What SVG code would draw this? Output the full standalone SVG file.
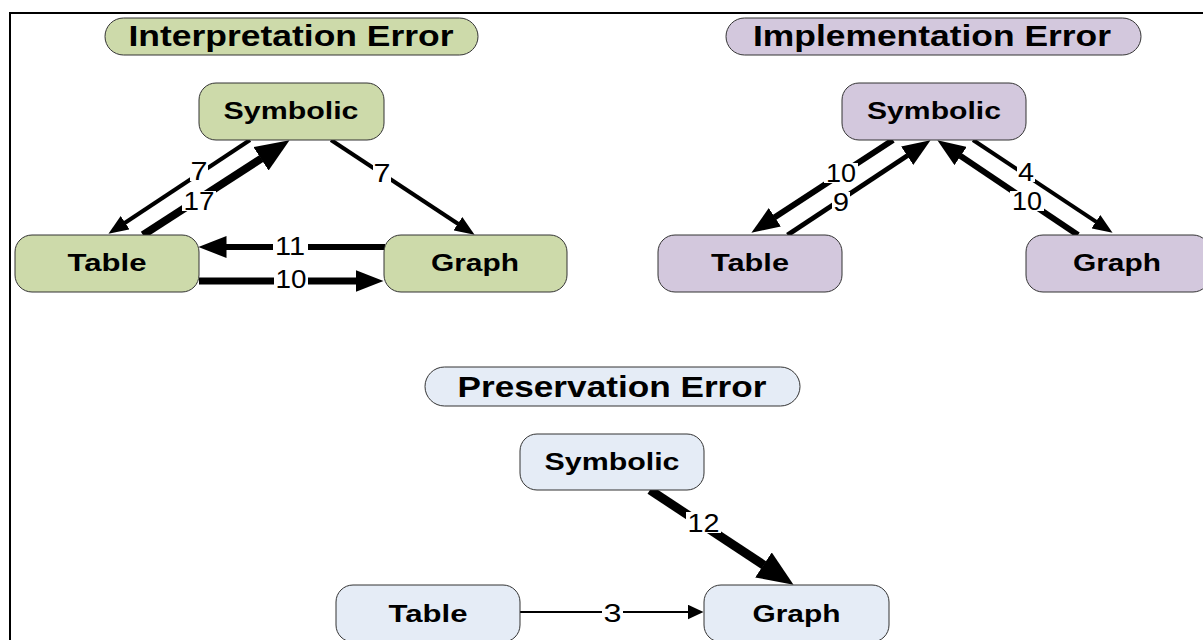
<svg xmlns="http://www.w3.org/2000/svg" width="1203" height="640" viewBox="0 0 1203 640">
<style>
.title{font-family:"Liberation Sans",Arial,sans-serif;font-weight:bold;font-size:29px;text-anchor:middle;fill:#000}
.ntext{font-family:"Liberation Sans",Arial,sans-serif;font-weight:bold;font-size:23.5px;text-anchor:middle;fill:#000}
.lbl{font-family:"Liberation Sans",Arial,sans-serif;font-size:25px;text-anchor:middle;fill:#000}
.node{stroke:#333;stroke-width:1}
.green{fill:#CDDAAA}
.purple{fill:#D3C8DD}
.blue{fill:#E5ECF6}
.e{stroke:#000;fill:none;stroke-linecap:butt}
.bg{fill:#fff}
</style>
<defs>
<marker id="mS" markerUnits="userSpaceOnUse" viewBox="0 0 16 15" refX="0.5" refY="7.5" markerWidth="16" markerHeight="15" orient="auto"><path d="M0,0 L16,7.5 L0,15 z" fill="#000"/></marker>
<marker id="m4" markerUnits="userSpaceOnUse" viewBox="0 0 20 16" refX="0.5" refY="8" markerWidth="20" markerHeight="16" orient="auto"><path d="M0,0 L20,8 L0,16 z" fill="#000"/></marker>
<marker id="m6" markerUnits="userSpaceOnUse" viewBox="0 0 28 22" refX="0.5" refY="11" markerWidth="28" markerHeight="22" orient="auto"><path d="M0,0 L28,11 L0,22 z" fill="#000"/></marker>
<marker id="m8" markerUnits="userSpaceOnUse" viewBox="0 0 34 28" refX="0.5" refY="14" markerWidth="34" markerHeight="28" orient="auto"><path d="M0,0 L34,14 L0,28 z" fill="#000"/></marker>
<marker id="m9" markerUnits="userSpaceOnUse" viewBox="0 0 36 30" refX="0.5" refY="15" markerWidth="36" markerHeight="30" orient="auto"><path d="M0,0 L36,15 L0,30 z" fill="#000"/></marker>
</defs>
<rect x="0" y="0" width="1203" height="640" fill="#fff"/>
<rect x="10" y="13" width="1200" height="640" fill="none" stroke="#000" stroke-width="2"/>

<g id="connectors">
  <!-- Interpretation -->
  <line class="e" x1="250" y1="140" x2="124.7" y2="223" stroke-width="4" marker-end="url(#m4)"/>
  <line class="e" x1="143" y1="235" x2="261.4" y2="158.5" stroke-width="8" marker-end="url(#m8)"/>
  <line class="e" x1="331" y1="140" x2="458.3" y2="224" stroke-width="4" marker-end="url(#m4)"/>
  <line class="e" x1="385" y1="247" x2="226" y2="247" stroke-width="6" marker-end="url(#m6)"/>
  <line class="e" x1="199" y1="281" x2="356" y2="281" stroke-width="7" marker-end="url(#m6)"/>
  <!-- Implementation -->
  <line class="e" x1="893" y1="140" x2="774.4" y2="217.6" stroke-width="6" marker-end="url(#m6)"/>
  <line class="e" x1="787.5" y1="235" x2="907.6" y2="155.5" stroke-width="5" marker-end="url(#m6)"/>
  <line class="e" x1="973" y1="140" x2="1096.3" y2="221.9" stroke-width="4" marker-end="url(#m4)"/>
  <line class="e" x1="1078" y1="235" x2="960.2" y2="155.7" stroke-width="6" marker-end="url(#m6)"/>
  <!-- Preservation -->
  <line class="e" x1="650" y1="490" x2="763.9" y2="565.2" stroke-width="9" marker-end="url(#m9)"/>
  <line class="e" x1="520" y1="612" x2="688" y2="612" stroke-width="2" marker-end="url(#mS)"/>

  <!-- labels -->
  <rect class="bg" x="190" y="161" width="18" height="20"/>
  <text class="lbl" x="199" y="180" textLength="17" lengthAdjust="spacingAndGlyphs">7</text>
  <rect class="bg" x="182" y="191" width="34" height="20"/>
  <text class="lbl" x="199" y="210" textLength="31" lengthAdjust="spacingAndGlyphs">17</text>
  <rect class="bg" x="373" y="163" width="18" height="20"/>
  <text class="lbl" x="382" y="182" textLength="17" lengthAdjust="spacingAndGlyphs">7</text>
  <rect class="bg" x="273" y="236" width="35" height="20"/>
  <text class="lbl" x="290" y="255" textLength="30" lengthAdjust="spacingAndGlyphs">11</text>
  <rect class="bg" x="274" y="269" width="34" height="20"/>
  <text class="lbl" x="291" y="288" textLength="31" lengthAdjust="spacingAndGlyphs">10</text>

  <rect class="bg" x="824" y="163" width="34" height="20"/>
  <text class="lbl" x="841" y="182" textLength="30" lengthAdjust="spacingAndGlyphs">10</text>
  <rect class="bg" x="832" y="192" width="18" height="20"/>
  <text class="lbl" x="841" y="210.5" textLength="16" lengthAdjust="spacingAndGlyphs">9</text>
  <rect class="bg" x="1017" y="162" width="18" height="20"/>
  <text class="lbl" x="1026" y="181" textLength="16" lengthAdjust="spacingAndGlyphs">4</text>
  <rect class="bg" x="1010" y="191" width="34" height="20"/>
  <text class="lbl" x="1027" y="210" textLength="30" lengthAdjust="spacingAndGlyphs">10</text>

  <rect class="bg" x="686" y="512" width="35" height="21"/>
  <text class="lbl" x="703.5" y="531.5" textLength="32" lengthAdjust="spacingAndGlyphs">12</text>
  <rect class="bg" x="602" y="602" width="21" height="20"/>
  <text class="lbl" x="612.5" y="621.5" textLength="18" lengthAdjust="spacingAndGlyphs">3</text>
</g>

<g id="title-interpretation">
  <rect class="node green" x="105" y="18" width="373" height="37" rx="18.5" ry="18.5"/>
  <text class="title" x="291" y="46" textLength="325" lengthAdjust="spacingAndGlyphs">Interpretation Error</text>
</g>
<g id="int-symbolic">
  <rect class="node green" x="199" y="83" width="185" height="57" rx="17" ry="17"/>
  <text class="ntext" x="291" y="119" textLength="135" lengthAdjust="spacingAndGlyphs">Symbolic</text>
</g>
<g id="int-table">
  <rect class="node green" x="15" y="235" width="184" height="57" rx="17" ry="17"/>
  <text class="ntext" x="107" y="271" textLength="79" lengthAdjust="spacingAndGlyphs">Table</text>
</g>
<g id="int-graph">
  <rect class="node green" x="384" y="235" width="183" height="57" rx="17" ry="17"/>
  <text class="ntext" x="475" y="271" textLength="88" lengthAdjust="spacingAndGlyphs">Graph</text>
</g>

<g id="title-implementation">
  <rect class="node purple" x="726" y="18" width="415" height="37" rx="18.5" ry="18.5"/>
  <text class="title" x="932" y="46" textLength="358" lengthAdjust="spacingAndGlyphs">Implementation Error</text>
</g>
<g id="imp-symbolic">
  <rect class="node purple" x="842" y="83" width="184" height="57" rx="17" ry="17"/>
  <text class="ntext" x="934" y="119" textLength="134" lengthAdjust="spacingAndGlyphs">Symbolic</text>
</g>
<g id="imp-table">
  <rect class="node purple" x="658" y="235" width="184" height="57" rx="17" ry="17"/>
  <text class="ntext" x="750" y="271" textLength="78" lengthAdjust="spacingAndGlyphs">Table</text>
</g>
<g id="imp-graph">
  <rect class="node purple" x="1026" y="235" width="184" height="57" rx="17" ry="17"/>
  <text class="ntext" x="1117" y="271" textLength="88" lengthAdjust="spacingAndGlyphs">Graph</text>
</g>

<g id="title-preservation">
  <rect class="node blue" x="425" y="367" width="375" height="39" rx="19.5" ry="19.5"/>
  <text class="title" x="612" y="396.5" font-size="28" textLength="309" lengthAdjust="spacingAndGlyphs">Preservation Error</text>
</g>
<g id="pre-symbolic">
  <rect class="node blue" x="520" y="434" width="184" height="56" rx="17" ry="17"/>
  <text class="ntext" x="612" y="470" textLength="135" lengthAdjust="spacingAndGlyphs">Symbolic</text>
</g>
<g id="pre-table">
  <rect class="node blue" x="336" y="585" width="184" height="57" rx="17" ry="17"/>
  <text class="ntext" x="428" y="622" textLength="79" lengthAdjust="spacingAndGlyphs">Table</text>
</g>
<g id="pre-graph">
  <rect class="node blue" x="704" y="585" width="185" height="57" rx="17" ry="17"/>
  <text class="ntext" x="796.5" y="622" textLength="88" lengthAdjust="spacingAndGlyphs">Graph</text>
</g>
</svg>
